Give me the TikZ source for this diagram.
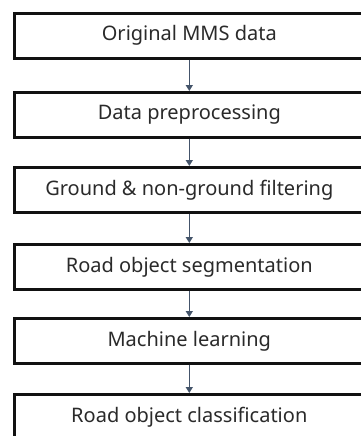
\documentclass[tikz,border=0pt]{standalone}
\usepackage{fontspec}
\setmainfont{Noto Sans}
\usetikzlibrary{arrows.meta}
\definecolor{arrowblue}{HTML}{44546A}
\definecolor{boxline}{HTML}{111111}
\definecolor{textgray}{HTML}{2A2A2A}
\begin{document}
\begin{tikzpicture}[x=1pt,y=-1pt,
  stagebox/.style={draw=boxline, line width=2.6pt, fill=white, minimum width=350pt,
    minimum height=45pt, inner sep=0pt, font=\fontsize{20}{24}\selectfont, text=textgray,
    anchor=north west},
  flow/.style={draw=arrowblue, line width=1.5pt, -{Triangle[length=6pt,width=7pt]}}]
\useasboundingbox (0,0) rectangle (361,436);
\begin{scope}
\clip (0,0) rectangle (361,436);
\node[stagebox] (s1) at (13,12)  {Original MMS data};
\node[stagebox] (s2) at (13,91)  {Data preprocessing};
\node[stagebox] (s3) at (13,166) {Ground \& non-ground filtering};
\node[stagebox] (s4) at (13,243) {Road object segmentation};
\node[stagebox] (s5) at (13,317) {Machine learning};
\node[stagebox] (s6) at (13,393) {Road object classification};
\foreach \a/\b in {s1/s2,s2/s3,s3/s4,s4/s5,s5/s6}
  \draw[flow] (\a.south) -- (\b.north);
\end{scope}
\end{tikzpicture}
\end{document}
